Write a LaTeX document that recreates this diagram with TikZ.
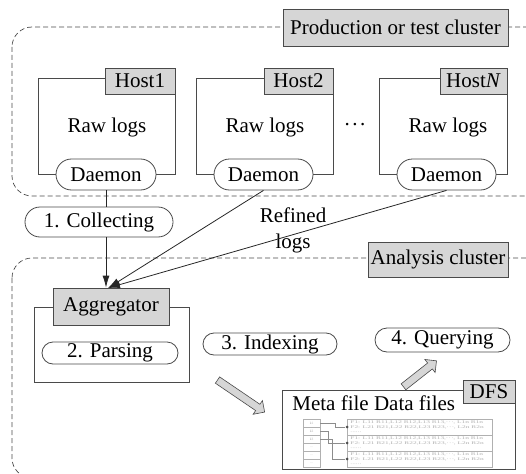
\documentclass[tikz,border=0pt]{standalone}
\usepackage{fontspec}
\setmainfont{Liberation Serif}
\usetikzlibrary{shapes.misc,shapes.arrows,arrows.meta}
\definecolor{lblgray}{HTML}{D6D6D6}
\definecolor{edgegray}{HTML}{4A4A4A}
\definecolor{figgray}{HTML}{B0B0B0}
\definecolor{figline}{HTML}{8C8C8C}
\newcommand{\middots}{\raisebox{0.28em}{.\kern0.12em.\kern0.12em.}}
\begin{document}
\begin{tikzpicture}[x=1pt,y=-1pt,
  font=\fontsize{21}{24}\selectfont,
  line width=0.8pt,
  lbl/.style={draw=edgegray, fill=lblgray, inner sep=0pt},
  oval/.style={rounded rectangle, draw=edgegray, fill=white, inner sep=0pt},
  frame/.style={draw=edgegray, inner sep=0pt},
  cluster/.style={draw=edgegray, line width=0.7pt, dash pattern=on 5pt off 3pt, rounded corners=20pt},
  conn/.style={draw=black!85, -{Latex[length=12pt,width=7pt]}},
  blockarr/.style={single arrow, draw=edgegray, fill=lblgray, inner sep=3.5pt, single arrow head extend=4.5pt, line width=0.6pt},
  kbox/.style={draw=figgray, line width=0.4pt, minimum width=17pt, minimum height=8pt, anchor=north west, inner sep=0pt, text=figgray, font=\fontsize{3.5}{4}\selectfont},
  rowbox/.style={draw=figgray, line width=0.5pt, minimum width=145pt, minimum height=16pt, anchor=north west, inner sep=0pt},
  rowtxt/.style={anchor=base west, inner sep=0pt, text=figgray, font=\fontsize{4}{4}\selectfont},
  figconn/.style={draw=figline, line width=0.5pt},
  dotnode/.style={circle, fill=black!70, inner sep=0pt, minimum size=3pt}
]
\clip (0,0) rectangle (526,473);

% clusters
\draw[cluster] (12,27) rectangle (548,196);
\draw[cluster] (12,258) rectangle (548,478);

\node[lbl, minimum width=225pt, minimum height=37pt] (prodlbl) at (395.5,27.5) {Production or test cluster};
\node[lbl, minimum width=140pt, minimum height=35pt] (analbl) at (438,259.5) {Analysis cluster};

% hosts
\node[frame, minimum width=137pt, minimum height=96pt, anchor=north west] (host1) at (38,78) {};
\node[frame, minimum width=137pt, minimum height=96pt, anchor=north west] (host2) at (196,78) {};
\node[frame, minimum width=128pt, minimum height=96pt, anchor=north west] (hostn) at (379,78) {};

\node[lbl, minimum width=70pt, minimum height=26pt] (h1lbl) at (140,81) {Host1};
\node[lbl, minimum width=69pt, minimum height=26pt] (h2lbl) at (298.5,81) {Host2};
\node[lbl, minimum width=67pt, minimum height=26pt] (hnlbl) at (473.5,81) {Host\textit{N}};

\node (raw1) at (107,127) {Raw logs};
\node (raw2) at (265,127) {Raw logs};
\node (rawn) at (448,127) {Raw logs};
\node (dots) at (355,127) {\middots};

\node[oval, minimum width=100pt, minimum height=31pt] (dm1) at (106,174.5) {Daemon};
\node[oval, minimum width=99pt, minimum height=31pt] (dm2) at (263.5,174.5) {Daemon};
\node[oval, minimum width=99pt, minimum height=31pt] (dmn) at (446.5,174.5) {Daemon};

% collecting
\node[oval, minimum width=148pt, minimum height=30pt] (col) at (99,222) {1. Collecting};
\node[align=center, inner sep=0pt, font=\fontsize{21}{26}\selectfont] (refined) at (293,230) {Refined\\logs};

% aggregator
\node[frame, minimum width=155pt, minimum height=75pt, anchor=north west] (aggbox) at (34,307) {};
\node[lbl, minimum width=116pt, minimum height=37pt] (agg) at (111,306.5) {Aggregator};
\node[oval, minimum width=136pt, minimum height=22pt] (parse) at (110,353) {2. Parsing};

\coordinate (tip) at (108,288);
\draw[draw=black!85] (dm1.south) -- (dm1.south |- col.north);
\draw[conn] (dm1.south |- col.south) -- (dm1.south |- agg.north);
\draw[conn] (dm2.south) -- (tip);
\draw[conn] (dmn.south) -- (tip);

% indexing / querying
\node[oval, minimum width=134pt, minimum height=22pt] (idx) at (270,344) {3. Indexing};
\node[oval, minimum width=135pt, minimum height=24pt] (qry) at (442.5,340) {4. Querying};

\node[blockarr, minimum height=57pt, rotate=-34.2] (arr3) at (239.5,395) {};
\node[blockarr, minimum height=42pt, rotate=38.2] (arr4) at (418.5,375) {};

% DFS
\node[frame, fill=white, minimum width=233pt, minimum height=79pt, anchor=north west] (dfs) at (282,390) {};
\node[lbl, minimum width=52pt, minimum height=23pt] (dfslbl) at (489,391.5) {DFS};
\node[anchor=base west, inner sep=0pt] (meta) at (292,410) {Meta file Data files};

% inner figure
\node[kbox] (k0) at (303,419) {k1};
\node[kbox] (k1) at (303,427) {k2};
\node[kbox] (k2) at (303,435) {k3};
\node[kbox] (k3) at (303,443) {...};
\node[kbox] (k4) at (303,451) {...};
\node[kbox] (k5) at (303,459) {...};

\foreach \j in {0,1,2}{
  \node[rowbox] (row\j) at (347,{419+16*\j}) {};
  \node[rowtxt] at (350,{423.5+16*\j}) {\scalebox{1.85}[1]{F1: L11 R11,L12 R12,L13 R13,\middots, L1n R1n}};
  \node[rowtxt] at (350,{428.2+16*\j}) {\scalebox{1.85}[1]{F2: L21 R21,L22 R22,L23 R23,\middots, L2n R2n}};
  \node[rowtxt] at (350,{432.8+16*\j}) {\scalebox{1.85}[1]{......}};
  \node[dotnode] (dot\j) at (347,{427+16*\j}) {};
}
\draw[figconn] (k0.east) -- ++(15,0) |- (dot0);
\draw[figconn] (k1.east) -- ++(8,0) |- (dot1);
\draw[figconn] (k2.east) -- ++(12,0) |- (dot2);
\end{tikzpicture}
\end{document}
